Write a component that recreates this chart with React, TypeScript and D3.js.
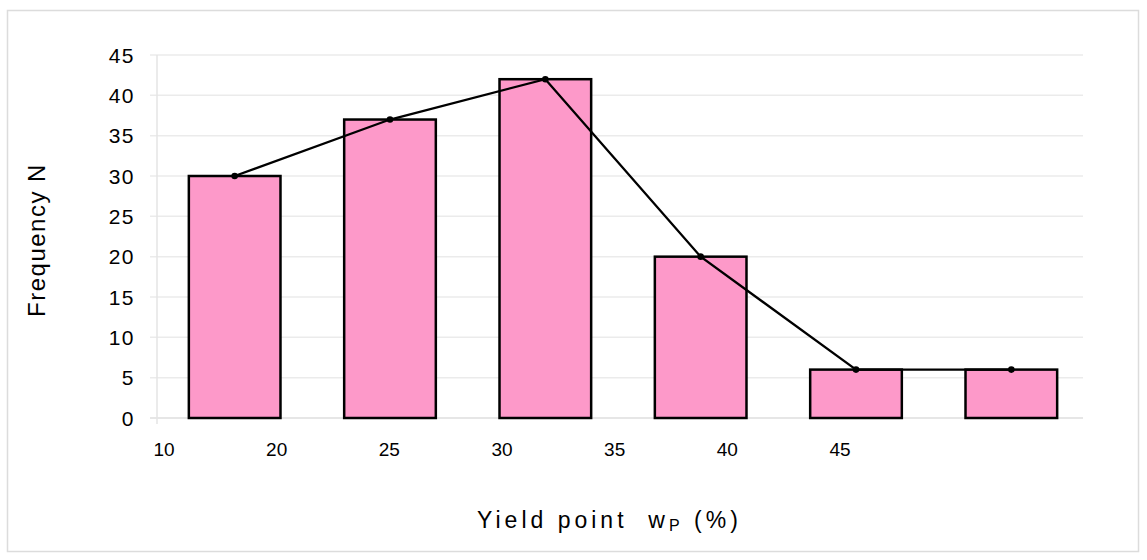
import { useEffect, useRef } from "react";
import * as d3 from "d3";

// bins of the yield point histogram (%)
const bins = ["10-20", "20-25", "25-30", "30-35", "35-40", "40-45"];
const frequency = [30, 37, 42, 20, 6, 6];
const xTickLabels = ["10", "20", "25", "30", "35", "40", "45"];
const yTicks = [0, 5, 10, 15, 20, 25, 30, 35, 40, 45];

const W = 1147;
const H = 560;
const PLOT = { left: 157, right: 1089, top: 55, bottom: 418 };

export default function App() {
  const svgRef = useRef<SVGSVGElement>(null);

  useEffect(() => {
    if (!svgRef.current) return;
    const svg = d3.select(svgRef.current);
    svg.selectAll("*").remove();

    const font = "'Liberation Sans', Arial, sans-serif";

    // outer frame
    svg
      .append("rect")
      .attr("x", 7.5)
      .attr("y", 10.5)
      .attr("width", 1131)
      .attr("height", 541)
      .attr("fill", "#fff")
      .attr("stroke", "#dcdcdc")
      .attr("stroke-width", 1.5);

    const x = d3
      .scaleBand<string>()
      .domain(bins)
      .range([PLOT.left, PLOT.right])
      .paddingInner(0.41)
      .paddingOuter(0.205);

    const y = d3.scaleLinear().domain([0, 45]).range([PLOT.bottom, PLOT.top]);

    // gridlines
    svg
      .append("g")
      .selectAll("line")
      .data(yTicks)
      .enter()
      .append("line")
      .attr("x1", PLOT.left - 7)
      .attr("x2", PLOT.right - 6)
      .attr("y1", (d) => y(d))
      .attr("y2", (d) => y(d))
      .attr("stroke", (d) => (d === 0 ? "#dedede" : "#ebebeb"))
      .attr("stroke-width", 1.5);

    // y axis line
    svg
      .append("line")
      .attr("x1", PLOT.left)
      .attr("x2", PLOT.left)
      .attr("y1", y(45))
      .attr("y2", y(0) + 6)
      .attr("stroke", "#e4e4e4")
      .attr("stroke-width", 1.5);

    // y tick labels
    svg
      .append("g")
      .selectAll("text")
      .data(yTicks)
      .enter()
      .append("text")
      .attr("x", 135)
      .attr("y", (d) => y(d))
      .attr("dy", "0.36em")
      .attr("text-anchor", "end")
      .attr("font-family", font)
      .attr("font-size", 21)
      .attr("letter-spacing", 1.5)
      .attr("fill", "#000")
      .text((d) => d);

    // bars
    svg
      .append("g")
      .selectAll("rect")
      .data(bins)
      .enter()
      .append("rect")
      .attr("x", (d) => x(d)!)
      .attr("y", (d, i) => y(frequency[i]))
      .attr("width", x.bandwidth())
      .attr("height", (d, i) => y(0) - y(frequency[i]))
      .attr("fill", "#fd99c9")
      .attr("stroke", "#000")
      .attr("stroke-width", 2.5);

    // frequency polygon
    const pts = bins.map((b, i) => [x(b)! + x.bandwidth() / 2, y(frequency[i])] as [number, number]);
    svg
      .append("path")
      .attr("d", d3.line()(pts))
      .attr("fill", "none")
      .attr("stroke", "#000")
      .attr("stroke-width", 2.3);

    svg
      .append("g")
      .selectAll("circle")
      .data(pts)
      .enter()
      .append("circle")
      .attr("cx", (d) => d[0])
      .attr("cy", (d) => d[1])
      .attr("r", 3.3)
      .attr("fill", "#000");

    // x tick labels (bin edges)
    const xl = d3.scalePoint<string>().domain(xTickLabels).range([164, 840]);
    svg
      .append("g")
      .selectAll("text")
      .data(xTickLabels)
      .enter()
      .append("text")
      .attr("x", (d) => xl(d)!)
      .attr("y", 456)
      .attr("text-anchor", "middle")
      .attr("font-family", font)
      .attr("font-size", 19)
      .attr("fill", "#000")
      .text((d) => d);

    // axis titles
    svg
      .append("text")
      .attr("transform", "translate(45,240) rotate(-90)")
      .attr("text-anchor", "middle")
      .attr("font-family", font)
      .attr("font-size", 24)
      .attr("letter-spacing", 1.5)
      .attr("fill", "#000")
      .text("Frequency N");

    const xt = svg
      .append("text")
      .attr("x", 477)
      .attr("y", 528)
      .attr("font-family", font)
      .attr("font-size", 23)
      .attr("letter-spacing", 4)
      .attr("fill", "#000")
      .style("white-space", "pre");
    xt.append("tspan").text("Yield point  w");
    xt.append("tspan").attr("font-size", 16).attr("dy", 3).text("P");
    xt.append("tspan").attr("dy", -3).text(" (%)");
  }, []);

  return (
    <div style={{ position: "absolute", left: 0, top: 0 }}>
      <svg ref={svgRef} width={W} height={H} style={{ display: "block", background: "#fff" }} />
    </div>
  );
}
